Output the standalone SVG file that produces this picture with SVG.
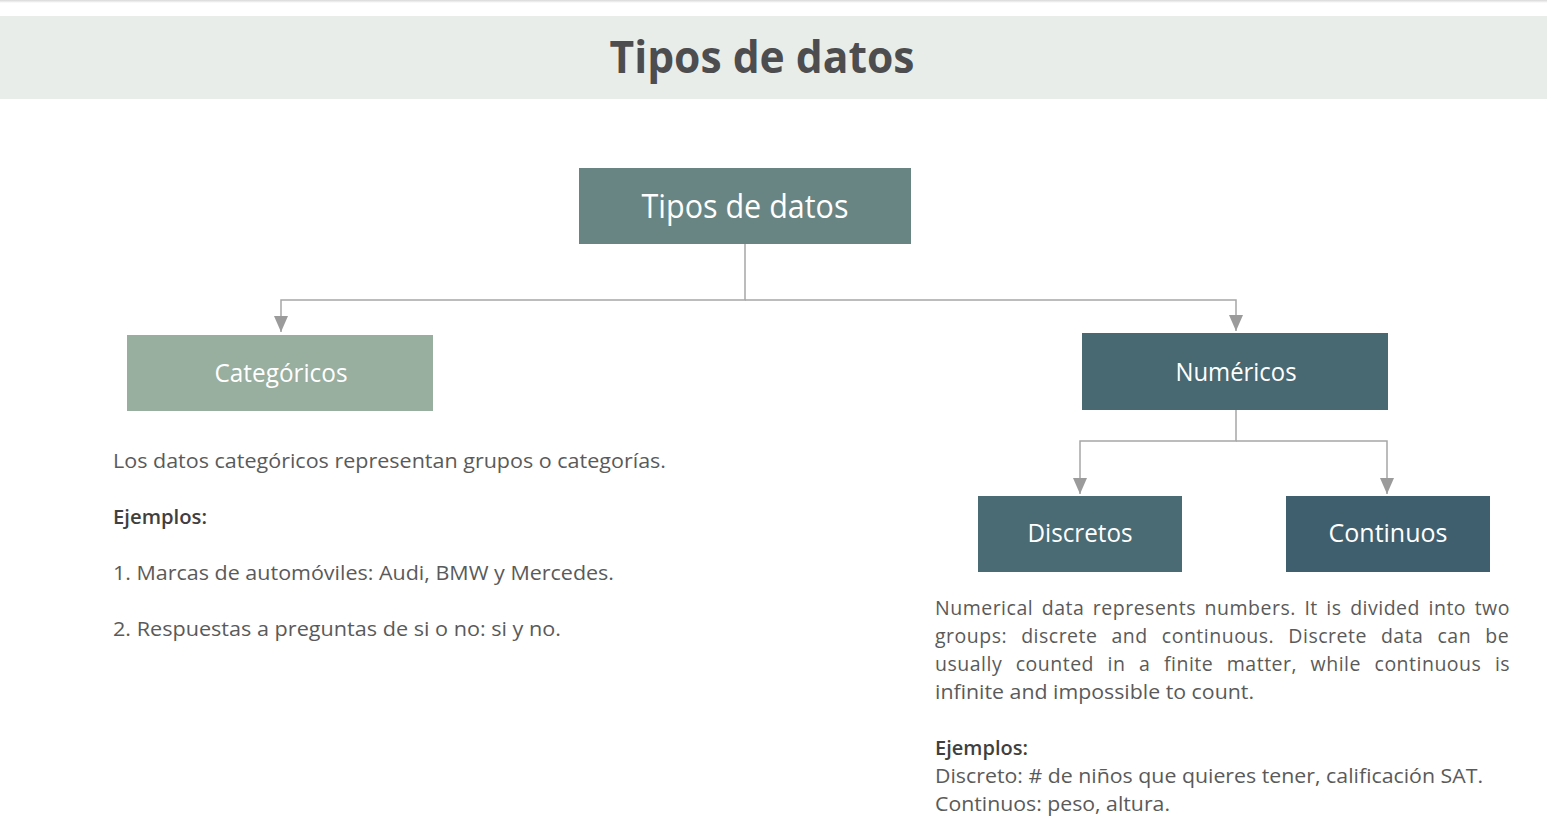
<svg xmlns="http://www.w3.org/2000/svg" width="1547" height="837" viewBox="0 0 1547 837">
<defs>
<marker id="arr" markerWidth="16" markerHeight="14" refX="16" refY="7" orient="auto" markerUnits="userSpaceOnUse" viewBox="0 0 16 14">
<path d="M0,0 L16,7 L0,14 Z" fill="#9b9b9b"/>
</marker>
<linearGradient id="topshade" x1="0" y1="0" x2="0" y2="1">
<stop offset="0" stop-color="#d8d8d8"/>
<stop offset="1" stop-color="#ffffff"/>
</linearGradient>
</defs>
<style>
.box-label{font-family:"Open Sans","Noto Sans","Liberation Sans",sans-serif;fill:#ffffff;text-anchor:middle}
.body{font-family:"Open Sans","Noto Sans","Liberation Sans",sans-serif;font-size:19.5px;fill:#5a5a5a}
.just{letter-spacing:0.5px}
.head{font-family:"Open Sans","Noto Sans","Liberation Sans",sans-serif;font-size:19.5px;fill:#3f3f3f;font-weight:600}
.conn{fill:none;stroke:#a6a6a6;stroke-width:1.5}
</style>
<rect x="0" y="0" width="1547" height="837" fill="#ffffff"/>
<rect x="0" y="0" width="1547" height="3" fill="url(#topshade)"/>
<g id="header">
<rect x="0" y="16" width="1547" height="83" fill="#e9edea"/>
<text x="762" y="73" text-anchor="middle" font-family="'Open Sans','Noto Sans','Liberation Sans',sans-serif" font-size="44" font-weight="700" fill="#4d4d4f" textLength="305" lengthAdjust="spacingAndGlyphs">Tipos de datos</text>
</g>
<g id="connectors">
<path class="conn" d="M745,244 V300 H281 V332" marker-end="url(#arr)"/>
<path class="conn" d="M745,300 H1236 V331" marker-end="url(#arr)"/>
<path class="conn" d="M1236,410 V441 H1080 V494" marker-end="url(#arr)"/>
<path class="conn" d="M1236,441 H1387 V494" marker-end="url(#arr)"/>
</g>
<g id="root">
<rect x="579" y="168" width="332" height="76" fill="#688584"/>
<text class="box-label" x="745" y="218" font-size="33" textLength="207" lengthAdjust="spacingAndGlyphs">Tipos de datos</text>
</g>
<g id="categoricos">
<rect x="127" y="335" width="306" height="76" fill="#98ae9f"/>
<text class="box-label" x="281" y="382" font-size="25" textLength="133" lengthAdjust="spacingAndGlyphs">Categóricos</text>
</g>
<g id="numericos">
<rect x="1082" y="333" width="306" height="77" fill="#486872"/>
<text class="box-label" x="1236" y="381" font-size="25" textLength="121" lengthAdjust="spacingAndGlyphs">Numéricos</text>
</g>
<g id="discretos">
<rect x="978" y="496" width="204" height="76" fill="#4a6a74"/>
<text class="box-label" x="1080" y="542" font-size="25" textLength="105" lengthAdjust="spacingAndGlyphs">Discretos</text>
</g>
<g id="continuos">
<rect x="1286" y="496" width="204" height="76" fill="#3f5f6e"/>
<text class="box-label" x="1388" y="542" font-size="25" textLength="119" lengthAdjust="spacingAndGlyphs">Continuos</text>
</g>
<g id="categoricos-text">
<text class="body" x="113" y="468" textLength="553" lengthAdjust="spacingAndGlyphs">Los datos categóricos representan grupos o categorías.</text>
<text class="head" x="113" y="524" textLength="94" lengthAdjust="spacingAndGlyphs">Ejemplos:</text>
<text class="body" x="113" y="580" textLength="501" lengthAdjust="spacingAndGlyphs">1. Marcas de automóviles: Audi, BMW y Mercedes.</text>
<text class="body" x="113" y="636" textLength="448" lengthAdjust="spacingAndGlyphs">2. Respuestas a preguntas de si o no: si y no.</text>
</g>
<g id="numericos-text">
<text class="body just" x="935" y="615" word-spacing="3">Numerical data represents numbers. It is divided into two</text>
<text class="body just" x="935" y="643" word-spacing="8.5">groups: discrete and continuous. Discrete data can be</text>
<text class="body just" x="935" y="671" word-spacing="8">usually counted in a finite matter, while continuous is</text>
<text class="body" x="935" y="699" textLength="319" lengthAdjust="spacingAndGlyphs">infinite and impossible to count.</text>
<text class="head" x="935" y="755" textLength="93" lengthAdjust="spacingAndGlyphs">Ejemplos:</text>
<text class="body" x="935" y="783" textLength="548" lengthAdjust="spacingAndGlyphs">Discreto: # de niños que quieres tener, calificación SAT.</text>
<text class="body" x="935" y="811" textLength="235" lengthAdjust="spacingAndGlyphs">Continuos: peso, altura.</text>
</g>
</svg>
